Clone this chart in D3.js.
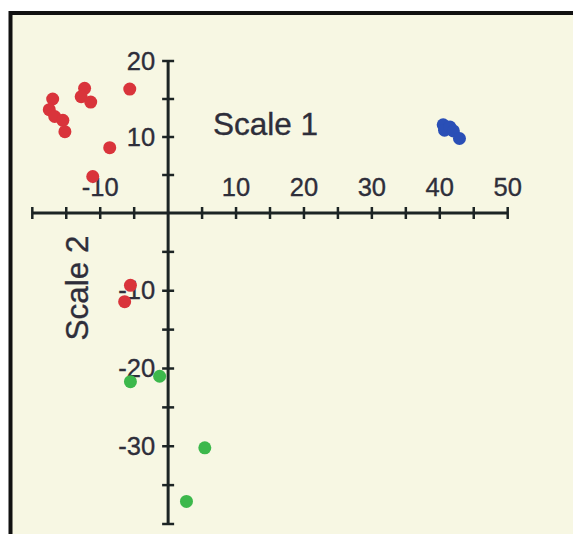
<!DOCTYPE html>
<html>
<head>
<meta charset="utf-8">
<script src="https://cdn.jsdelivr.net/npm/d3@7"></script>
<style>
  html, body { margin: 0; padding: 0; background: #ffffff; }
  svg { display: block; }
  text { font-family: "Liberation Sans", Arial, sans-serif; fill: #2e2e3a; stroke: #2e2e3a; stroke-width: 0.35; }
</style>
</head>
<body>
<svg id="chart" width="573" height="534"></svg>
<script>
// ---- data ----
const redX   = [-5.65, -12.3, -12.8, -11.4, -17.0, -17.5, -16.7, -15.5, -15.2, -8.6, -11.1, -5.55, -6.4];
const redY   = [16.3, 16.4, 15.3, 14.6, 15.0, 13.6, 12.7, 12.2, 10.7, 8.6, 4.8, -9.3, -11.4];
const blueX  = [40.5, 40.7, 41.5, 42.0, 42.9];
const blueY  = [11.6, 10.9, 11.3, 10.8, 9.8];
const greenX = [-5.55, -1.25, 5.4, 2.7];
const greenY = [-21.7, -21.0, -30.2, -37.1];
const xTickLabels = [-10, 10, 20, 30, 40, 50];
const yTickLabels = [20, 10, -10, -20, -30];
const xTitle = "Scale 1";
const yTitle = "Scale 2";

const svg = d3.select("#chart");

// frame / background
svg.append("rect")
  .attr("x", 10.5).attr("y", 13).attr("width", 700).attr("height", 700)
  .attr("fill", "#f7f7e3").attr("stroke", "#111").attr("stroke-width", 4);

const x = d3.scaleLinear().domain([-20, 50]).range([32.3, 507.7]);
const y = d3.scaleLinear().domain([-40, 0, 20]).range([524, 213, 61]);

const x0 = x(0), y0 = y(0);
const axisColor = "#1c2424";

// x axis line
svg.append("line")
  .attr("x1", x(-20)).attr("x2", x(50)).attr("y1", y0).attr("y2", y0)
  .attr("stroke", axisColor).attr("stroke-width", 3);
// y axis line
svg.append("line")
  .attr("x1", x0).attr("x2", x0).attr("y1", y(20)).attr("y2", y(-40))
  .attr("stroke", axisColor).attr("stroke-width", 3);

const xTicks = d3.range(-20, 50.001, 5).filter(v => v !== 0);
const yTicks = d3.range(-40, 20.001, 5).filter(v => v !== 0);

svg.append("g").selectAll("line").data(xTicks).join("line")
  .attr("x1", d => x(d)).attr("x2", d => x(d))
  .attr("y1", y0 - 6).attr("y2", y0 + 6)
  .attr("stroke", axisColor).attr("stroke-width", 2.5);

svg.append("g").selectAll("line").data(yTicks).join("line")
  .attr("y1", d => y(d)).attr("y2", d => y(d))
  .attr("x1", x0 - 6).attr("x2", x0 + 6)
  .attr("stroke", axisColor).attr("stroke-width", 2.5);

// tick labels
svg.append("g").selectAll("text").data(xTickLabels).join("text")
  .attr("x", d => x(d)).attr("y", y0 - 17)
  .attr("text-anchor", "middle")
  .attr("font-size", 25.5)
  .text(d => d);

svg.append("g").selectAll("text").data(yTickLabels).join("text")
  .attr("x", x0 - 13).attr("y", d => y(d) + 2)
  .attr("text-anchor", "end")
  .attr("dominant-baseline", "middle")
  .attr("font-size", 25.5)
  .text(d => d);

// axis titles
svg.append("text")
  .attr("x", 213).attr("y", 135)
  .attr("font-size", 31.5)
  .text(xTitle);

svg.append("text")
  .attr("transform", "translate(88,288) rotate(-90)")
  .attr("text-anchor", "middle")
  .attr("font-size", 31.5)
  .text(yTitle);

// points
function drawSeries(xs, ys, color) {
  svg.append("g").selectAll("circle").data(xs.map((v, i) => [v, ys[i]])).join("circle")
    .attr("cx", d => x(d[0])).attr("cy", d => y(d[1]))
    .attr("r", 6.5)
    .attr("fill", color);
}
drawSeries(redX, redY, "#d9343b");
drawSeries(blueX, blueY, "#2a4fb6");
drawSeries(greenX, greenY, "#3cb84b");
</script>
</body>
</html>
